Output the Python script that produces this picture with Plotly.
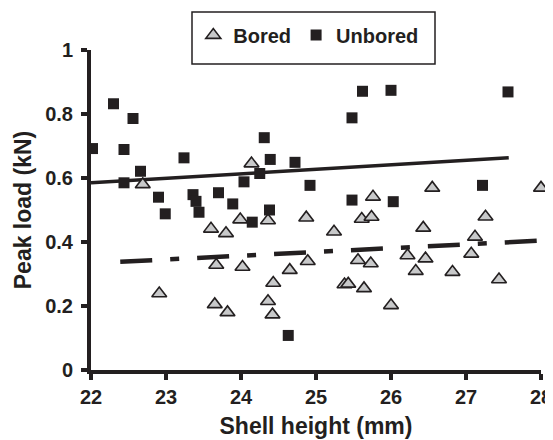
import plotly.graph_objects as go

# Bored shells (triangles)
bored_x = [22.69, 22.91, 23.60, 23.80, 23.67, 23.65, 23.82, 23.99, 24.02, 24.14,
           24.36, 24.36, 24.42, 24.43, 24.65, 24.87, 24.89, 25.24, 25.38, 25.43,
           25.56, 25.61, 25.64, 25.73, 25.74, 25.76, 26.00, 26.22, 26.33, 26.43,
           26.46, 26.55, 26.82, 27.07, 27.12, 27.26, 27.44, 28.00]
bored_y = [0.580, 0.239, 0.441, 0.427, 0.328, 0.205, 0.180, 0.470, 0.322, 0.645,
           0.467, 0.215, 0.173, 0.272, 0.312, 0.476, 0.340, 0.432, 0.267, 0.269,
           0.343, 0.472, 0.255, 0.333, 0.478, 0.541, 0.202, 0.358, 0.309, 0.444,
           0.348, 0.569, 0.306, 0.363, 0.416, 0.479, 0.283, 0.569]

# Unbored shells (squares)
unbored_x = [22.02, 22.30, 22.44, 22.44, 22.56, 22.66, 22.90, 22.99, 23.24, 23.36,
             23.40, 23.44, 23.70, 23.89, 24.04, 24.15, 24.25, 24.31, 24.38, 24.39,
             24.63, 24.72, 24.92, 25.48, 25.48, 25.62, 26.00, 26.03, 27.22, 27.56]
unbored_y = [0.692, 0.832, 0.689, 0.585, 0.786, 0.621, 0.540, 0.488, 0.663, 0.548,
             0.527, 0.493, 0.554, 0.519, 0.588, 0.462, 0.614, 0.726, 0.500, 0.658,
             0.108, 0.649, 0.577, 0.788, 0.531, 0.871, 0.874, 0.526, 0.577, 0.869]

# Trend lines (endpoints)
unbored_trend_x = [22.0, 27.57]
unbored_trend_y = [0.585, 0.663]
bored_trend_x = [22.39, 27.96]
bored_trend_y = [0.338, 0.404]

x_ticks = [22, 23, 24, 25, 26, 27, 28]
y_ticks = [0, 0.2, 0.4, 0.6, 0.8, 1]
y_tick_labels = ["0", "0.2", "0.4", "0.6", "0.8", "1"]

FONT = "Arial, Liberation Sans, sans-serif"
DARK = "#231f20"

fig = go.Figure()

fig.add_trace(go.Scatter(
    x=unbored_trend_x, y=unbored_trend_y, mode="lines",
    line=dict(color=DARK, width=3.5), showlegend=False, hoverinfo="skip"))
fig.add_trace(go.Scatter(
    x=bored_trend_x, y=bored_trend_y, mode="lines",
    line=dict(color=DARK, width=4.5, dash="32px,18px,9px,18px"),
    showlegend=False, hoverinfo="skip"))

fig.add_trace(go.Scatter(
    x=bored_x, y=bored_y, mode="markers", name="Bored", cliponaxis=False,
    marker=dict(symbol="triangle-up", size=13, color="#c8c9ca",
                line=dict(color=DARK, width=1.6))))
fig.add_trace(go.Scatter(
    x=unbored_x, y=unbored_y, mode="markers", name="Unbored", cliponaxis=False,
    marker=dict(symbol="square", size=11, color=DARK,
                line=dict(color=DARK, width=0))))

axis_common = dict(
    showline=True, linecolor=DARK, linewidth=4,
    ticks="outside", ticklen=6, tickwidth=3.5, tickcolor=DARK,
    showgrid=False, zeroline=False, automargin=False,
    tickfont=dict(family=FONT, size=20, color=DARK, weight="bold"),
)
title_font = dict(family=FONT, size=23, color=DARK, weight="bold")

# legend frame (page has an 8px body margin, figure is sized to fit)
fig.add_shape(type="rect", xref="paper", yref="paper",
              x0=(192 - 91) / 450, x1=(435 - 91) / 450,
              y0=(370 - 64) / 320, y1=(370 - 12) / 320,
              line=dict(color=DARK, width=1.5), fillcolor="white", layer="above")

fig.update_layout(
    width=545, height=432,
    margin=dict(l=83, r=12, t=42, b=70, autoexpand=False),
    plot_bgcolor="white", paper_bgcolor="white",
    font=dict(family=FONT, color=DARK),
    xaxis=dict(range=[22, 28], tickvals=x_ticks, **axis_common,
               title=dict(text="Shell height (mm)", standoff=12, font=title_font)),
    yaxis=dict(range=[0, 1], tickvals=y_ticks, ticktext=y_tick_labels, **axis_common,
               ticklabelstandoff=4,
               title=dict(text="Peak load (kN)", standoff=8, font=title_font)),
    legend=dict(orientation="h", x=0.484, xanchor="center", y=1.1075, yanchor="top",
                borderwidth=0, bgcolor="rgba(0,0,0,0)",
                font=dict(family=FONT, size=20, color=DARK, weight="bold"),
                itemwidth=30, tracegroupgap=0),
    showlegend=True,
)

fig.write_html("out.html")
